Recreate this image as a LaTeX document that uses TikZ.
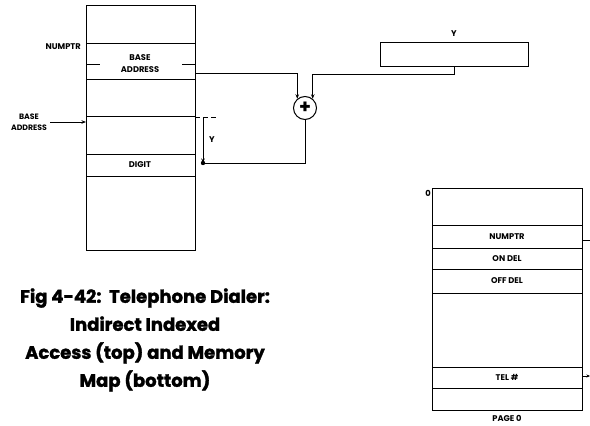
\documentclass[tikz,border=0pt]{standalone}
\usepackage{fontspec}
\setmainfont{Poppins}
\usetikzlibrary{arrows.meta,calc}
\begin{document}
\begin{tikzpicture}[x=1pt,y=-1pt,
  cell/.style={draw,line width=1pt,rectangle,inner sep=0pt,outer sep=0pt,anchor=north west,minimum width=109pt},
  mcell/.style={draw,line width=1pt,rectangle,inner sep=0pt,outer sep=0pt,anchor=north west,minimum width=150pt},
  lbl/.style={font=\fontsize{8.3}{9}\selectfont\bfseries,inner sep=0pt,align=center},
  wire/.style={line width=1pt},
  tip/.style={-{Stealth[length=4.5pt,width=3.5pt]}}]
\fill[white] (0,0) rectangle (590,426);
\useasboundingbox (0,0) rectangle (590,426);
% left memory block
\node[cell,minimum height=38pt] (c0) at (86,5) {};
\node[cell,minimum height=36pt] (cb) at (86,43) {};
\node[cell,minimum height=37pt] (c2) at (86,79) {};
\node[cell,minimum height=38pt] (c3) at (86,116) {};
\node[cell,minimum height=22pt] (cd) at (86,154) {};
\node[cell,minimum height=74pt] (c5) at (86,176) {};
\node[lbl] (tb) at (140,63.5) {BASE\\[2.5pt]ADDRESS};
\node[lbl] (td) at (140,165) {DIGIT};
\draw[wire] (cb.west |- 0,64) -- ++(14,0);
\draw[wire] (cb.east |- 0,64) -- ++(-13,0);
\node[lbl,anchor=east] (np) at (81,47) {NUMPTR};
\node[lbl,font=\fontsize{7.8}{9}\selectfont\bfseries] (ba) at (29,122) {BASE\\[2.5pt]ADDRESS};
\coordinate (baend) at (50,122);
\draw[wire,tip] (baend) -- (cb.west |- baend);
% adder
\node[draw,circle,line width=1pt,minimum size=23pt,inner sep=0pt,font=\fontsize{19}{19}\selectfont\bfseries] (plus) at (305,108) {+};
\coordinate (k1) at (195,73);
\draw[wire,tip] (k1) -| (plus.130);
\node[draw,line width=1pt,rectangle,minimum width=148pt,minimum height=24pt,inner sep=0pt] (ybox) at (454,54) {};
\node[lbl] (yl) at (454,34) {Y};
\draw[wire,tip] (ybox.south) -- ++(0,8) -| (plus.50);
\coordinate (dot) at (203,163);
\draw[wire] (plus.south) |- (dot);
\fill (dot) circle (2.2pt);
\coordinate (ytop) at (203,117);
\draw[wire,tip] (ytop) -- (dot);
\draw[wire,dashed,dash pattern=on 5pt off 3pt] (195,117) -- (216,117);
\node[lbl] (yy) at (212,140) {Y};
% memory map
\node[mcell,minimum height=37pt] (m0) at (432,188) {};
\node[mcell,minimum height=23pt] (m1) at (432,225) {};
\node[mcell,minimum height=21pt] (m2) at (432,248) {};
\node[mcell,minimum height=24pt] (m3) at (432,269) {};
\node[mcell,minimum height=74pt] (m4) at (432,293) {};
\node[mcell,minimum height=21pt] (m5) at (432,367) {};
\node[mcell,minimum height=22pt] (m6) at (432,388) {};
\node[lbl] at (m1.center) {NUMPTR};
\node[lbl] at (m2.center) {ON DEL};
\node[lbl] at (m3.center) {OFF DEL};
\node[lbl] at (m5.center) {TEL \#};
\node[lbl] (pg) at (507,418) {PAGE 0};
\node[lbl] (zero) at (428,193) {0};
\coordinate (r1) at (590,240);
\coordinate (r2) at (590,376);
\draw[wire] (m1.east |- r1) -- (r1);
\draw[wire,-{Stealth[length=3.5pt,width=3pt]}] (m5.east |- r2) -- (r2);
% caption
\node[font=\fontsize{18}{28}\selectfont\bfseries\addfontfeature{FakeBold=1.6},align=center,inner sep=0pt] (cap) at (145,340)
  {Fig 4-42:\ \ Telephone Dialer:\\Indirect Indexed\\Access (top) and Memory\\Map (bottom)};
\end{tikzpicture}
\end{document}
